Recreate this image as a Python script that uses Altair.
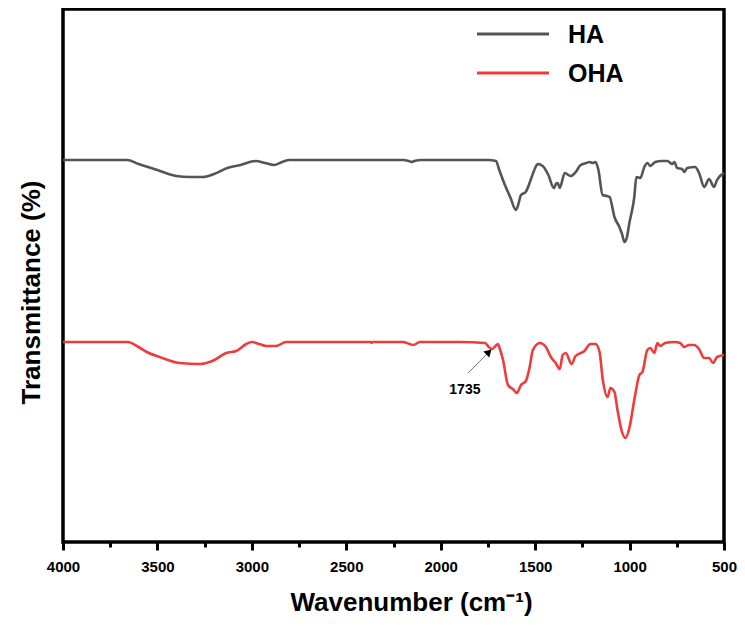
import altair as alt
import pandas as pd

# HA spectrum: wavenumber (cm-1) and transmittance (arbitrary units)
ha_wn = [4000, 3850, 3700, 3660, 3600, 3500, 3400, 3330, 3260, 3200, 3130, 3060, 2980, 2930,
         2883, 2840, 2800, 2600, 2400, 2200, 2170, 2155, 2140, 2100, 1900, 1750, 1707, 1690,
         1660, 1630, 1602, 1590, 1575, 1550, 1520, 1500, 1486, 1460, 1430, 1401, 1390, 1380,
         1370, 1343, 1312, 1285, 1259, 1230, 1211, 1195, 1180, 1165, 1143, 1120, 1106, 1080,
         1054, 1040, 1027, 1015, 1001, 975, 964, 943, 922, 906, 890, 864, 830, 800, 774, 763,
         748, 722, 710, 695, 653, 632, 605, 579, 553, 537, 500]
ha_px = [160, 160, 160, 160, 164, 170, 176, 177, 177, 174, 168, 165, 161, 163,
         165, 162, 160, 160, 160, 160, 161, 162, 161, 160, 160, 160, 161, 170,
         185, 198, 210, 205, 195, 192, 178, 168, 164, 166, 175, 188, 184, 183,
         188, 173, 176, 172, 165, 163, 162, 163, 162, 170, 195, 196, 197, 217,
         227, 234, 242, 238, 223, 197, 177, 178, 167, 163, 166, 162, 161, 161, 164, 162,
         168, 169, 172, 168, 167, 173, 187, 179, 187, 180, 173]

oha_wn = [4000, 3800, 3657, 3600, 3557, 3489, 3383, 3278, 3209, 3136, 3083, 3030, 3000, 2962,
          2925, 2872, 2819, 2600, 2370, 2366, 2360, 2200, 2165, 2145, 2110, 1900, 1765, 1745,
          1728, 1710, 1697, 1685, 1670, 1644, 1618, 1597, 1575, 1549, 1530, 1512, 1475, 1443,
          1417, 1391, 1370, 1354, 1338, 1307, 1286, 1239, 1207, 1180, 1159, 1143, 1117, 1101,
          1080, 1064, 1043, 1022, 1001, 975, 948, 932, 906, 890, 869, 853, 838, 811, 764, 732,
          711, 685, 658, 632, 605, 579, 558, 537, 500]
oha_px = [342, 342, 342, 347, 352, 357, 363, 364, 361, 353, 351, 344, 342, 344,
          346, 346, 342, 342, 342, 343, 342, 342, 344, 345, 342, 342, 343, 347,
          349, 346, 344, 350, 360, 385, 389, 393, 385, 381, 368, 350, 343, 347,
          357, 363, 369, 355, 353, 364, 356, 351, 344, 344, 352, 378, 397, 388,
          392, 410, 430, 438, 428, 400, 375, 372, 350, 348, 353, 343, 346, 343, 342, 343,
          347, 345, 345, 349, 358, 358, 363, 357, 355]

series_names = ["HA", "OHA"]
series_colors = ["#555555", "#ef3b3b"]

# Annotation (1735 cm-1 peak)
ann_label = "1735"
ann_tip = (1745, 190)
ann_tail = (1855, 169)
ann_text = (1872, 152)

TOP = 542
ha = pd.DataFrame({"wn": ha_wn, "T": [TOP - v for v in ha_px], "series": "HA",
                   "i": range(len(ha_wn))})
oha = pd.DataFrame({"wn": oha_wn, "T": [TOP - v for v in oha_px], "series": "OHA",
                    "i": range(len(oha_wn))})
df = pd.concat([ha, oha], ignore_index=True)

W, H = 661, 533
xscale = alt.Scale(domain=[4000, 500], nice=False, zero=False)
yscale = alt.Scale(domain=[0, H], nice=False, zero=False)

major = list(range(4000, 499, -500))
minor = list(range(3750, 600, -500))
tickvals = sorted(major + minor, reverse=True)

x_axis = alt.Axis(
    values=tickvals, format="d",
    labelExpr="datum.value % 500 === 0 ? datum.label : ''",
    tickSize={"condition": {"test": "datum.value % 500 === 0", "value": 8}, "value": 5},
    tickWidth=3, tickColor="black", domain=False, grid=False,
    labelFont="Liberation Sans", labelFontWeight="bold", labelFontSize=15, labelColor="black",
    labelPadding=9, labelFlush=False,
    title="Wavenumber (cm⁻¹)", titleFont="Liberation Sans", titleFontWeight="bold",
    titleFontSize=26, titleColor="black", titlePadding=15, titleX=348,
)
y_axis = alt.Axis(
    labels=False, ticks=False, domain=False, grid=False,
    title="Transmittance (%)", titleFont="Liberation Sans", titleFontWeight="bold",
    titleFontSize=26, titleColor="black", titlePadding=19, titleY=283,
)

lines = alt.Chart(df).mark_line(strokeWidth=2.6, interpolate="monotone").encode(
    x=alt.X("wn:Q", scale=xscale, axis=x_axis),
    y=alt.Y("T:Q", scale=yscale, axis=y_axis),
    color=alt.Color("series:N", scale=alt.Scale(domain=series_names, range=series_colors),
                    legend=None),
    detail="series:N",
    order="i:Q",
)

ann_df = pd.DataFrame({"x": [ann_tail[0]], "y": [ann_tail[1]],
                       "x2": [ann_tip[0]], "y2": [ann_tip[1]],
                       "tx": [ann_text[0]], "ty": [ann_text[1]], "label": [ann_label]})
arrow_line = alt.Chart(ann_df).mark_rule(color="#777777", strokeWidth=1).encode(
    x=alt.X("x:Q", scale=xscale), y=alt.Y("y:Q", scale=yscale),
    x2="x2:Q", y2="y2:Q")
arrow_head = alt.Chart(ann_df).mark_point(shape="triangle-up", filled=True, color="black",
                                          size=70, angle=45, opacity=1).encode(
    x=alt.X("x2:Q", scale=xscale), y=alt.Y("y2:Q", scale=yscale))
arrow_text = alt.Chart(ann_df).mark_text(font="Liberation Sans", fontWeight="bold",
                                         fontSize=14, color="black").encode(
    x=alt.X("tx:Q", scale=xscale), y=alt.Y("ty:Q", scale=yscale), text="label:N")

# Legend drawn as marks
leg_df = pd.DataFrame({"series": series_names})
legend_layers = []
for k, (name, col) in enumerate(zip(series_names, series_colors)):
    ypos = 25 + 39 * k
    legend_layers.append(
        alt.Chart(leg_df[leg_df.series == name]).mark_rule(color=col, strokeWidth=3).encode(
            x=alt.value(414), x2=alt.value(486), y=alt.value(ypos)))
    legend_layers.append(
        alt.Chart(leg_df[leg_df.series == name]).mark_text(
            align="left", baseline="middle", font="Liberation Sans", fontWeight="bold",
            fontSize=25, color="black").encode(
            x=alt.value(505), y=alt.value(ypos + 1), text="series:N"))

chart = alt.layer(lines, arrow_line, arrow_head, arrow_text, *legend_layers).properties(
    width=W, height=H,
    autosize=alt.AutoSizeParams(type="none"),
    padding={"left": 55, "top": 1, "right": 13, "bottom": 76},
    background="white",
).configure_view(stroke="black", strokeWidth=3.5)

chart.save("out.html", embed_options={"renderer": "svg", "actions": False})
